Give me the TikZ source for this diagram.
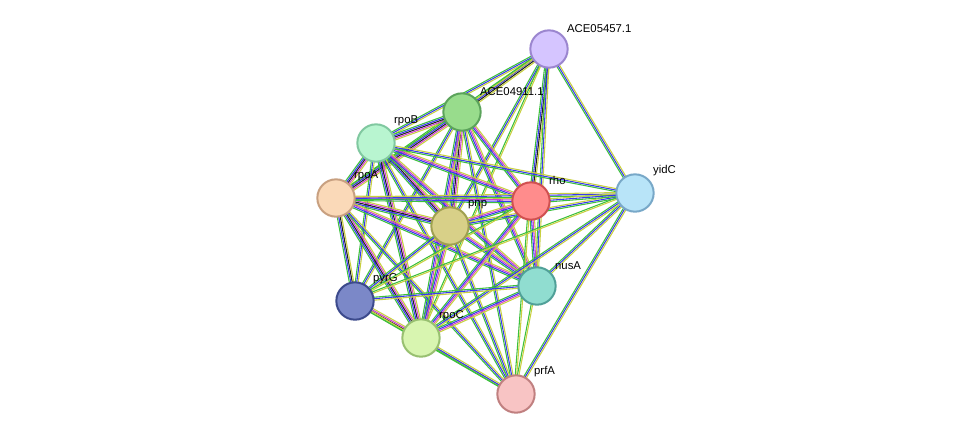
\documentclass[tikz,border=0pt]{standalone}
\usepackage{fontspec}
\setmainfont{Liberation Sans}
\usetikzlibrary{calc,backgrounds}
\definecolor{egreen}{HTML}{3CC03C}
\definecolor{eblue}{HTML}{3838F0}
\definecolor{eblack}{HTML}{202020}
\definecolor{emag}{HTML}{D040D0}
\definecolor{eyel}{HTML}{C8D040}
\definecolor{fE5}{HTML}{D5C5FF}\definecolor{dE5}{HTML}{9B86CF}
\definecolor{fE4}{HTML}{98DC8C}\definecolor{dE4}{HTML}{5BA35B}
\definecolor{fB}{HTML}{B8F5D0}\definecolor{dB}{HTML}{80C8A0}
\definecolor{fA}{HTML}{FAD9B8}\definecolor{dA}{HTML}{C8A080}
\definecolor{fP}{HTML}{D8D088}\definecolor{dP}{HTML}{A0A050}
\definecolor{fR}{HTML}{FF8C8C}\definecolor{dR}{HTML}{D05050}
\definecolor{fY}{HTML}{B8E4F8}\definecolor{dY}{HTML}{78A8C8}
\definecolor{fN}{HTML}{90DDD0}\definecolor{dN}{HTML}{50A098}
\definecolor{fG}{HTML}{7B88C8}\definecolor{dG}{HTML}{3C4A8C}
\definecolor{fC}{HTML}{D8F5B0}\definecolor{dC}{HTML}{98C070}
\definecolor{fF}{HTML}{F8C4C4}\definecolor{dF}{HTML}{C08080}
\tikzset{
  prot/.style = {circle, minimum size=28pt, inner sep=0pt, line width=1.5pt, fill=f#1, draw=d#1},
  lab/.style = {font=\fontsize{8.5}{10}\selectfont, anchor=south west, inner sep=1pt, xshift=2pt, yshift=1pt},
  edge/.style = {line width=0.8pt}
}
\begin{document}
\begin{tikzpicture}[x=0.75pt, y=-0.75pt]
    \useasboundingbox (0,0) rectangle (976,440);
    % proteins
    \node [prot=E5] (E5) at (549,49) {};
    \node [prot=E4] (E4) at (462,112) {};
    \node [prot=B] (B) at (376,143) {};
    \node [prot=A] (A) at (336,198) {};
    \node [prot=P] (P) at (450,226) {};
    \node [prot=R] (R) at (531,201) {};
    \node [prot=Y] (Y) at (635,193) {};
    \node [prot=N] (N) at (537,286) {};
    \node [prot=G] (G) at (355,301) {};
    \node [prot=C] (C) at (421,338) {};
    \node [prot=F] (F) at (516,394) {};
    % labels
    \node [lab] at (E5.north east) {ACE05457.1};
    \node [lab] at (E4.north east) {ACE04911.1};
    \node [lab] at (B.north east) {rpoB};
    \node [lab] at (A.north east) {rpoA};
    \node [lab] at (P.north east) {pnp};
    \node [lab] at (R.north east) {rho};
    \node [lab] at (Y.north east) {yidC};
    \node [lab] at (N.north east) {nusA};
    \node [lab] at (G.north east) {pyrG};
    \node [lab] at (C.north east) {rpoC};
    \node [lab] at (F.north east) {prfA};
    % interactions
    \begin{pgfonlayer}{background}
    \foreach \a/\b/\cols in {
        E5/E4/{egreen,eblue,eblack,eyel}, E5/B/{egreen,eblue,eyel}, E5/A/{egreen,eyel},
        E5/P/{egreen,eblue,eyel}, E5/R/{egreen,eblue,eblack,eyel}, E5/Y/{egreen,eblue,eyel},
        E5/N/{egreen,eblue,eyel}, E5/C/{egreen,eyel},
        E4/B/{egreen,eblue,eblack,emag,eyel}, E4/A/{egreen,eblue,eblack,emag,eyel},
        E4/P/{egreen,eblue,eblack,emag,eyel}, E4/R/{egreen,eblue,emag,eyel},
        E4/N/{egreen,eblue,emag,eyel}, E4/G/{egreen,eblue,eyel}, E4/C/{egreen,eblue,emag,eyel},
        E4/F/{egreen,eblue,eyel},
        B/A/{egreen,eblue,eblack,emag,eyel}, B/P/{egreen,eblue,eblack,emag,eyel},
        B/R/{egreen,eblue,emag,eyel}, B/Y/{egreen,eblue,eyel}, B/N/{egreen,eblue,emag,eyel},
        B/G/{egreen,eblue,eyel}, B/C/{egreen,eblue,eblack,emag,eyel}, B/F/{egreen,eblue,eyel},
        A/P/{egreen,eblue,eblack,emag,eyel}, A/R/{egreen,eblue,emag,eyel}, A/Y/{egreen,eblue,eyel},
        A/N/{egreen,eblue,emag,eyel}, A/G/{egreen,eblue,eblack,eyel},
        A/C/{egreen,eblue,eblack,emag,eyel}, A/F/{egreen,eblue,eyel},
        P/R/{egreen,eblue,emag,eyel}, P/Y/{egreen,eblue,eyel}, P/N/{egreen,eblue,emag,eyel},
        P/G/{egreen,eblue,eyel}, P/C/{egreen,eblue,emag,eyel}, P/F/{egreen,eblue,eyel},
        R/Y/{egreen,eblue,eyel}, R/N/{egreen,eblue,emag,eyel}, R/G/{egreen,eyel},
        R/C/{egreen,eblue,emag,eyel}, R/F/{egreen,eyel},
        Y/N/{egreen,eblue,eyel}, Y/C/{egreen,eblue,eyel}, Y/F/{egreen,eblue,eyel}, Y/G/{egreen,eyel},
        N/G/{egreen,eblue,eyel}, N/C/{egreen,eblue,emag,eyel}, N/F/{egreen,eyel},
        G/C/{egreen,eblack,emag,eyel}, G/F/{egreen,eyel}, C/F/{egreen,eblue,eyel}} {
        \foreach \c [count=\i] in \cols {
            \draw [edge, \c] ($(\a.center)!{(\i-2.5)*1.1pt}!90:(\b.center)$)
                -- ($(\b.center)!{(\i-2.5)*1.1pt}!-90:(\a.center)$);
        }
    }
    \end{pgfonlayer}
\end{tikzpicture}
\end{document}
